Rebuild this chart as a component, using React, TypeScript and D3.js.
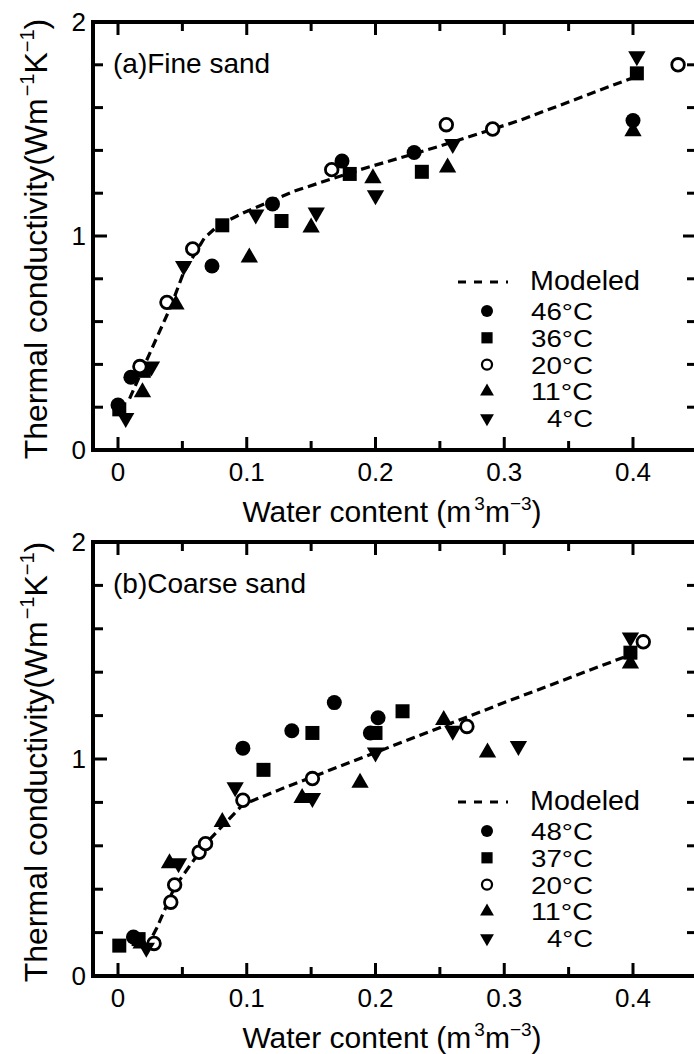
import React from "react";
import * as d3 from "d3";

type Pt = [number, number];

// ---- (a) Fine sand ----
const fineModeled: Pt[] = [
  [0.009, 0.24], [0.026, 0.47], [0.041, 0.67], [0.051, 0.83], [0.067, 0.99],
  [0.078, 1.05], [0.098, 1.11], [0.137, 1.21], [0.188, 1.31], [0.25, 1.42],
  [0.312, 1.54], [0.4, 1.74],
];
const fine46: Pt[] = [[0, 0.21], [0.01, 0.34], [0.073, 0.86], [0.12, 1.15], [0.174, 1.35], [0.23, 1.39], [0.4, 1.54]];
const fine36: Pt[] = [[0.001, 0.19], [0.02, 0.37], [0.081, 1.05], [0.127, 1.07], [0.18, 1.29], [0.236, 1.3], [0.403, 1.76]];
const fine20: Pt[] = [[0.017, 0.39], [0.038, 0.69], [0.058, 0.94], [0.166, 1.31], [0.255, 1.52], [0.291, 1.5], [0.435, 1.8]];
const fine11: Pt[] = [[0.019, 0.27], [0.045, 0.68], [0.102, 0.9], [0.15, 1.04], [0.198, 1.27], [0.256, 1.32], [0.4, 1.49]];
const fine4: Pt[] = [[0.006, 0.15], [0.026, 0.39], [0.051, 0.86], [0.107, 1.1], [0.154, 1.11], [0.2, 1.19], [0.26, 1.43], [0.403, 1.84]];
const fineTemps = ["46\u00b0C", "36\u00b0C", "20\u00b0C", "11\u00b0C", "4\u00b0C"];

// ---- (b) Coarse sand ----
const coarseModeled: Pt[] = [
  [0.022, 0.13], [0.03, 0.22], [0.044, 0.41], [0.068, 0.61], [0.097, 0.79],
  [0.126, 0.86], [0.2, 1.03], [0.3, 1.26], [0.4, 1.485],
];
const coarse48: Pt[] = [[0.012, 0.18], [0.097, 1.05], [0.135, 1.13], [0.168, 1.26], [0.196, 1.12], [0.202, 1.19]];
const coarse37: Pt[] = [[0.001, 0.14], [0.016, 0.17], [0.113, 0.95], [0.151, 1.12], [0.2, 1.12], [0.221, 1.22], [0.398, 1.49]];
const coarse20: Pt[] = [[0.028, 0.15], [0.041, 0.34], [0.044, 0.42], [0.063, 0.57], [0.068, 0.61], [0.097, 0.81], [0.151, 0.91], [0.271, 1.15], [0.408, 1.54]];
const coarse11: Pt[] = [[0.018, 0.15], [0.04, 0.52], [0.081, 0.71], [0.143, 0.82], [0.188, 0.89], [0.253, 1.18], [0.287, 1.03], [0.398, 1.44]];
const coarse4: Pt[] = [[0.022, 0.13], [0.047, 0.52], [0.091, 0.87], [0.151, 0.82], [0.2, 1.03], [0.26, 1.13], [0.311, 1.06], [0.398, 1.56]];
const coarseTemps = ["48\u00b0C", "37\u00b0C", "20\u00b0C", "11\u00b0C", "4\u00b0C"];

// ---- axes ----
const xTickValues = [0, 0.05, 0.1, 0.15, 0.2, 0.25, 0.3, 0.35, 0.4];
const xTickLabels = ["0", "0.1", "0.2", "0.3", "0.4"];
const xLabelValues = [0, 0.1, 0.2, 0.3, 0.4];
const yTickValues = [0, 0.2, 0.4, 0.6, 0.8, 1, 1.2, 1.4, 1.6, 1.8, 2];
const yTickLabels = ["0", "1", "2"];
const yLabelValues = [0, 1, 2];

type Kind = "circle" | "square" | "open" | "up" | "down";
const kinds: Kind[] = ["circle", "square", "open", "up", "down"];

const FONT = "'Liberation Sans', Arial, Helvetica, sans-serif";

function Marker({ kind, x, y, s = 1 }: { kind: Kind; x: number; y: number; s?: number }) {
  const tr = `translate(${x},${y})`;
  if (kind === "circle") return <circle cx={x} cy={y} r={7.5 * s} fill="#000" />;
  if (kind === "square")
    return <rect x={x - 7 * s} y={y - 7 * s} width={14 * s} height={14 * s} fill="#000" />;
  if (kind === "open")
    return <circle cx={x} cy={y} r={6.3 * s} fill="#fff" stroke="#000" strokeWidth={2.8 * s} />;
  const tri = d3.symbol().type(d3.symbolTriangle).size(130 * s * s)() as string;
  return <path d={tri} transform={kind === "down" ? `${tr} rotate(180)` : tr} fill="#000" />;
}

interface PanelProps {
  top: number;
  bottom: number;
  title: string;
  modeled: Pt[];
  series: Pt[][];
  temps: string[];
  legendY: number;
}

function Panel({ top, bottom, title, modeled, series, temps, legendY }: PanelProps) {
  const left = 93;
  const right = 697;
  const x = d3.scaleLinear().domain([0, 0.4]).range([118, 633]);
  const y = d3.scaleLinear().domain([0, 2]).range([bottom, top]);
  const line = d3
    .line<Pt>()
    .x((d) => x(d[0]))
    .y((d) => y(d[1]));
  const isMajorX = (v: number) => Math.abs(v * 10 - Math.round(v * 10)) < 1e-6;
  const isMajorY = (v: number) => Math.abs(v - Math.round(v)) < 1e-6;
  const cy = (top + bottom) / 2 + 3;

  return (
    <g fontFamily={FONT}>
      {/* frame */}
      <path
        d={`M${left},${top}H${right}V${bottom}H${left}Z`}
        fill="none"
        stroke="#000"
        strokeWidth={4}
      />
      {/* x ticks, bottom and top */}
      {xTickValues.map((v) => {
        const len = isMajorX(v) ? 13 : 9;
        return (
          <g key={`xt${v}`} stroke="#000" strokeWidth={3}>
            <line x1={x(v)} x2={x(v)} y1={bottom} y2={bottom - len} />
            <line x1={x(v)} x2={x(v)} y1={top} y2={top + len} />
          </g>
        );
      })}
      {/* y ticks, left and right */}
      {yTickValues.map((v) => {
        const len = isMajorY(v) ? 14 : 10;
        return (
          <g key={`yt${v}`} stroke="#000" strokeWidth={3}>
            <line x1={left} x2={left + len} y1={y(v)} y2={y(v)} />
            <line x1={right} x2={right - len} y1={y(v)} y2={y(v)} />
          </g>
        );
      })}
      {xLabelValues.map((v, i) => (
        <text key={`xl${v}`} x={x(v)} y={bottom + 31} textAnchor="middle" fontSize={26}>
          {xTickLabels[i]}
        </text>
      ))}
      {yLabelValues.map((v, i) => (
        <text key={`yl${v}`} x={86} y={y(v)} dy="0.36em" textAnchor="end" fontSize={26}>
          {yTickLabels[i]}
        </text>
      ))}
      {/* axis titles */}
      <text x={392} y={bottom + 72} textAnchor="middle" fontSize={30}>
        Water content (m
        <tspan dx={3} dy={-12} fontSize={19}>3</tspan>
        <tspan dy={12}>m</tspan>
        <tspan dy={-12} fontSize={19}>{"\u22123"}</tspan>
        <tspan dy={12}>)</tspan>
      </text>
      <text transform={`translate(47,${cy}) rotate(-90)`} textAnchor="middle" fontSize={32}>
        Thermal conductivity(Wm
        <tspan dx={2} dy={-13} fontSize={20}>{"\u22121"}</tspan>
        <tspan dy={13}>K</tspan>
        <tspan dy={-13} fontSize={20}>{"\u22121"}</tspan>
        <tspan dy={13}>)</tspan>
      </text>
      <text x={113} y={top + 51} fontSize={28}>
        {title}
      </text>
      {/* model */}
      <path
        d={line(modeled) as string}
        fill="none"
        stroke="#000"
        strokeWidth={3.2}
        strokeDasharray="9 5"
      />
      {/* measurements */}
      {series.map((pts, si) =>
        pts.map((p, pi) => <Marker key={`m${si}-${pi}`} kind={kinds[si]} x={x(p[0])} y={y(p[1])} />)
      )}
      {/* legend */}
      <line x1={458} x2={508} y1={legendY - 8} y2={legendY - 8} stroke="#000" strokeWidth={3} strokeDasharray="8 8" />
      <text x={530} y={legendY} fontSize={27} textLength={110} lengthAdjust="spacingAndGlyphs">
        Modeled
      </text>
      {temps.map((t, i) => {
        const by = legendY + 30 + i * 26.8;
        return (
          <g key={`lg${t}`}>
            <Marker kind={kinds[i]} x={487} y={by - 9} s={0.8} />
            <text
              x={593}
              y={by}
              textAnchor="end"
              fontSize={23}
              textLength={t.length > 3 ? 62 : 46}
              lengthAdjust="spacingAndGlyphs"
            >
              {t}
            </text>
          </g>
        );
      })}
    </g>
  );
}

export default function App() {
  return (
    <svg
      width={694}
      height={1054}
      style={{ position: "absolute", left: 0, top: 0, background: "#fff" }}
    >
      <rect width={694} height={1054} fill="#fff" />
      <Panel
        top={22}
        bottom={450}
        title="(a)Fine sand"
        modeled={fineModeled}
        series={[fine46, fine36, fine20, fine11, fine4]}
        temps={fineTemps}
        legendY={290}
      />
      <Panel
        top={542}
        bottom={976}
        title="(b)Coarse sand"
        modeled={coarseModeled}
        series={[coarse48, coarse37, coarse20, coarse11, coarse4]}
        temps={coarseTemps}
        legendY={810}
      />
    </svg>
  );
}
